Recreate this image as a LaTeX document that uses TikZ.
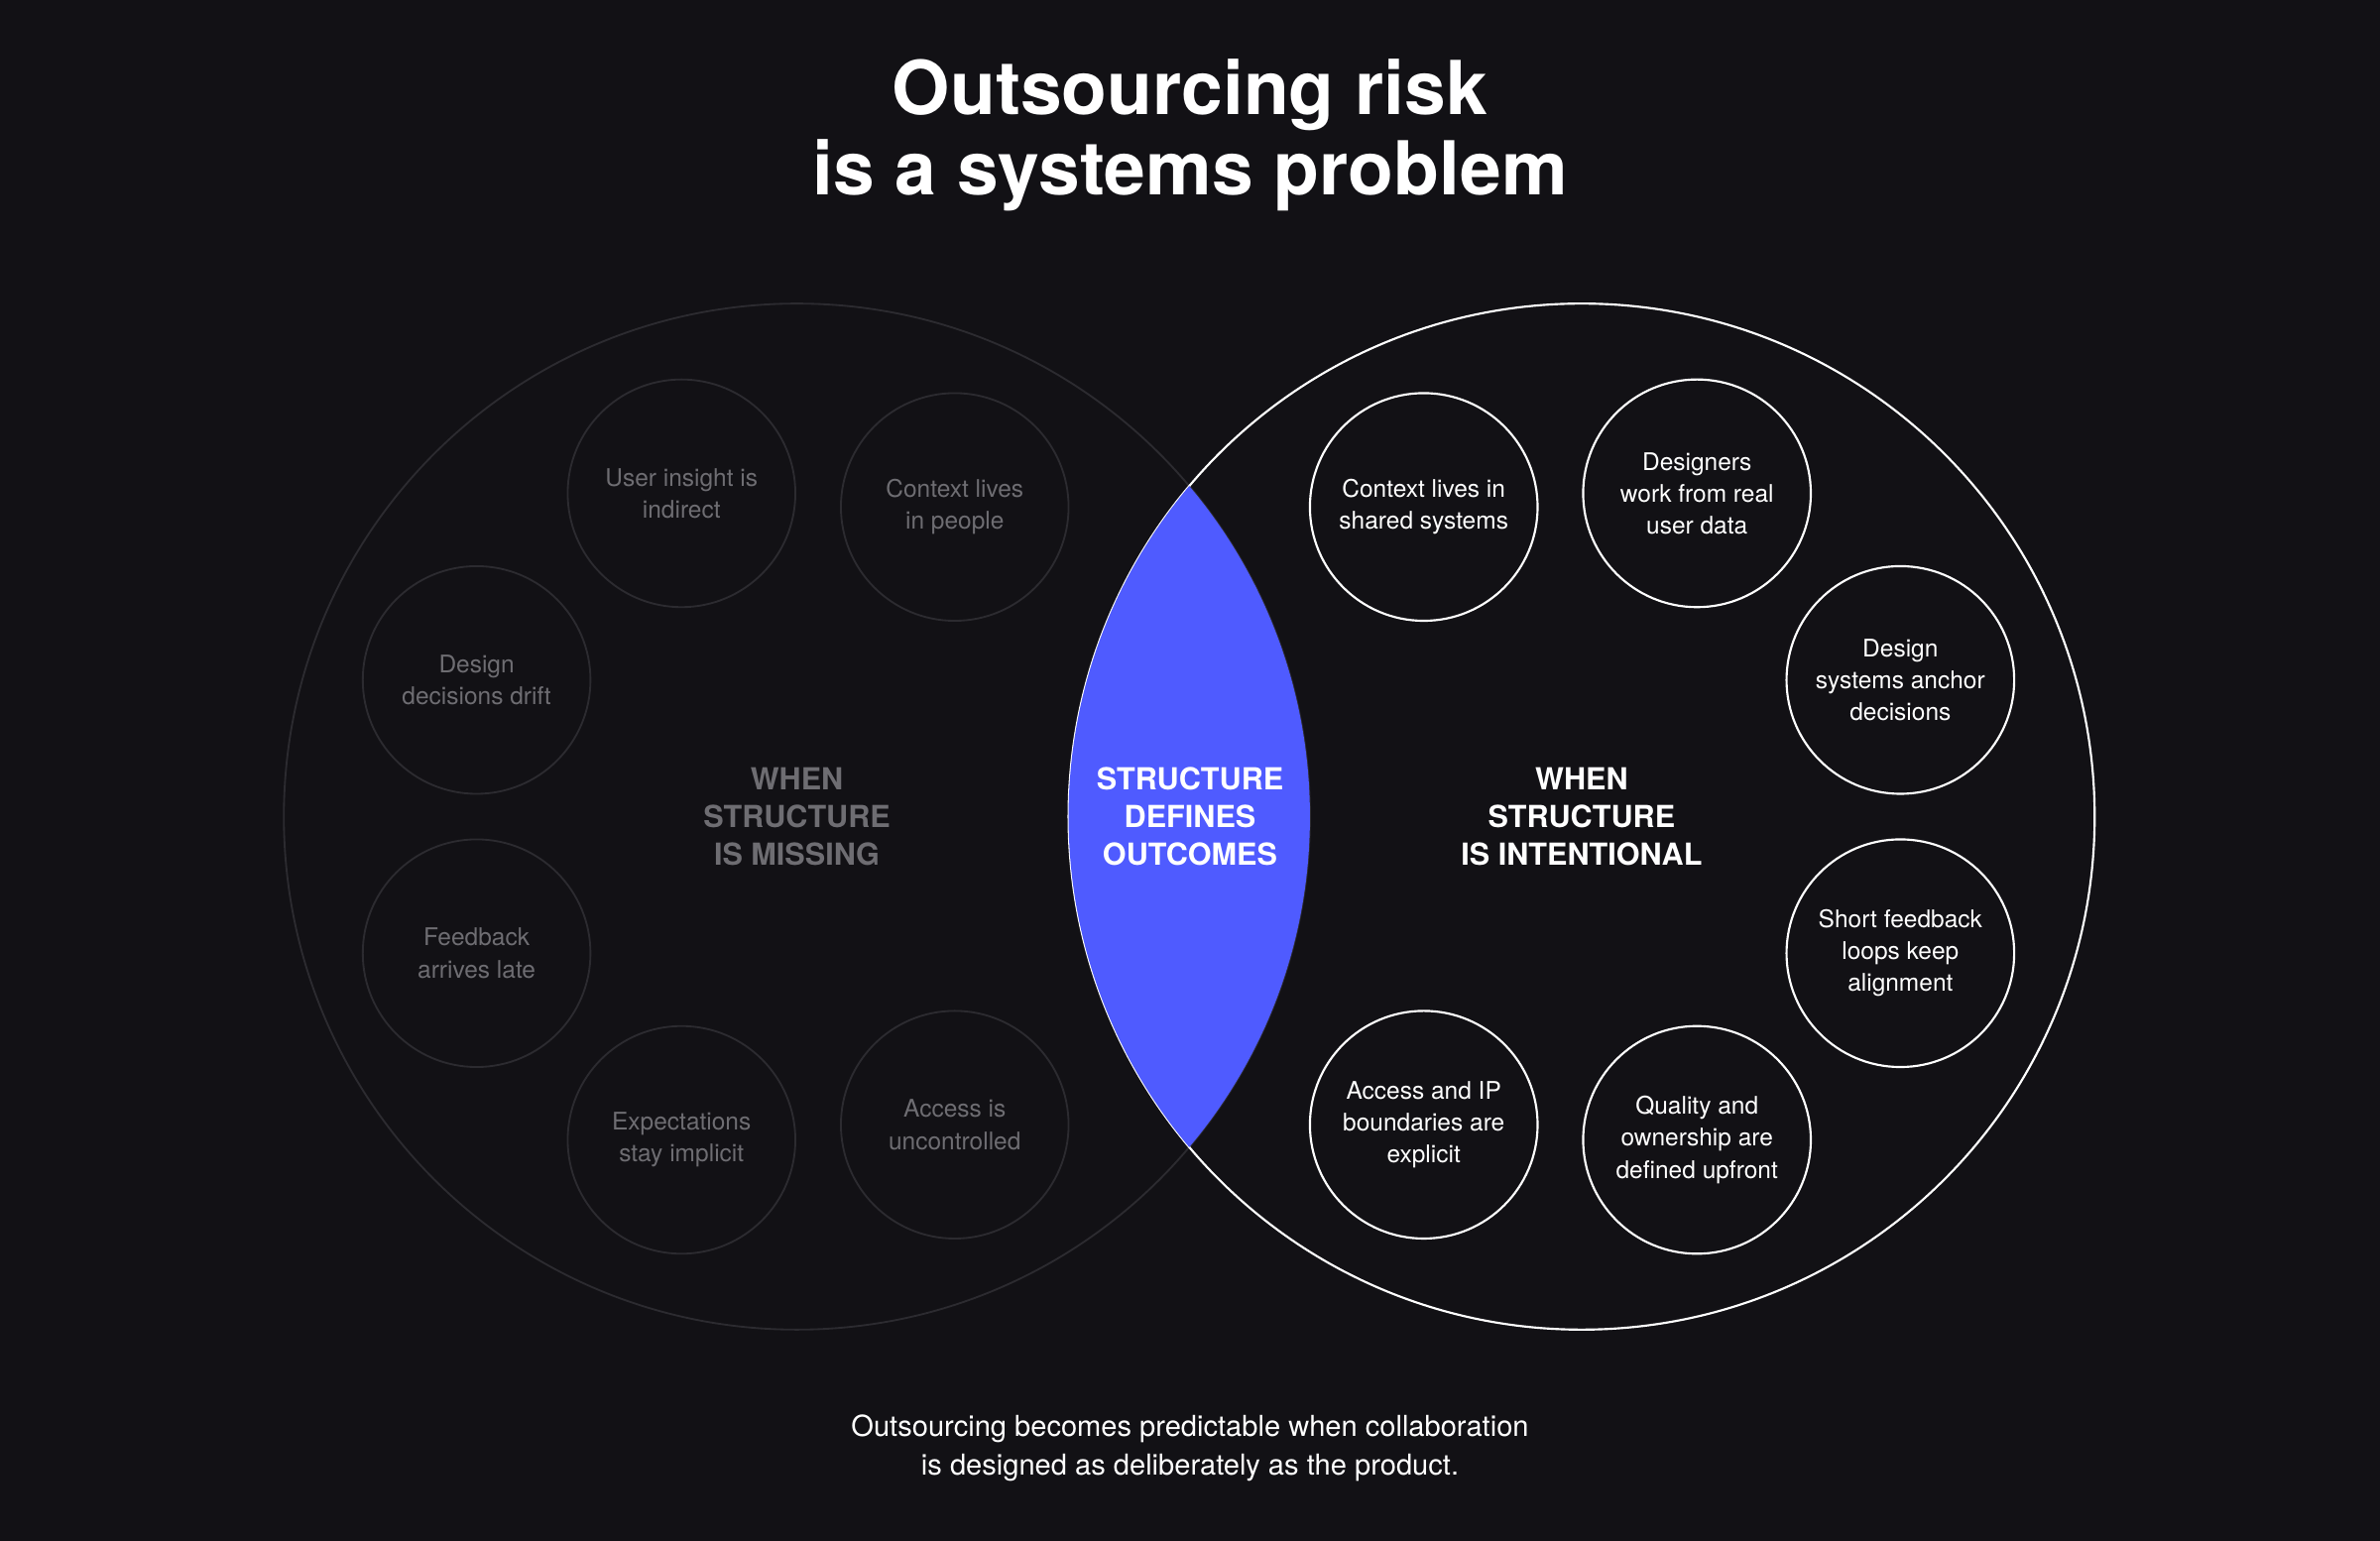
\documentclass[tikz,border=0pt]{standalone}
\usepackage{fontspec}
\setmainfont{TeX Gyre Heros}
\definecolor{bg}{HTML}{121115}
\definecolor{dim}{HTML}{2C2B30}
\definecolor{dimtext}{HTML}{6E6D72}
\definecolor{lens}{HTML}{4F5BFF}
\tikzset{
 small/.style={circle,minimum size=150pt,inner sep=0pt,align=center,font=\fontsize{16}{21}\selectfont},
 offc/.style={small,draw=dim,line width=1.2pt,text=dimtext},
 onc/.style={small,draw=white,line width=1.4pt,text=white},
 lbl/.style={align=center,font=\fontsize{20}{25}\selectfont\bfseries}
}
\begin{document}
\begin{tikzpicture}[x=1pt,y=-1pt]
\fill[bg] (0,0) rectangle (1568,1015);
\useasboundingbox (0,0) rectangle (1568,1015);
\node[align=center,text=white,font=\fontsize{49}{53}\selectfont\bfseries] (title) at (784,89) {Outsourcing risk\\is a systems problem};
\node[circle,draw=dim,line width=1.2pt,minimum size=676pt,inner sep=0pt] (L) at (525,538) {};
\node[circle,draw=white,line width=1.4pt,minimum size=676pt,inner sep=0pt] (R) at (1042,538) {};
\begin{scope}
\clip (525,538) circle (338);
\fill[lens] (1042,538) circle (338);
\end{scope}
\node[offc] (l1) at (449,325) {User insight is\\indirect};
\node[offc] (l2) at (629,334) {Context lives\\in people};
\node[offc] (l3) at (314,448) {Design\\decisions drift};
\node[offc] (l4) at (314,628) {Feedback\\arrives late};
\node[offc] (l5) at (449,751) {Expectations\\stay implicit};
\node[offc] (l6) at (629,741) {Access is\\uncontrolled};
\node[onc] (r1) at (938,334) {Context lives in\\shared systems};
\node[onc] (r2) at (1118,325) {Designers\\work from real\\user data};
\node[onc] (r3) at (1252,448) {Design\\systems anchor\\decisions};
\node[onc] (r4) at (1252,628) {Short feedback\\loops keep\\alignment};
\node[onc] (r5) at (1118,751) {Quality and\\ownership are\\defined upfront};
\node[onc] (r6) at (938,741) {Access and IP\\boundaries are\\explicit};
\node[lbl,text=dimtext] (tl) at (525,538) {WHEN\\STRUCTURE\\IS MISSING};
\node[lbl,text=white] (tc) at (784,538) {STRUCTURE\\DEFINES\\OUTCOMES};
\node[lbl,text=white] (tr) at (1042,538) {WHEN\\STRUCTURE\\IS INTENTIONAL};
\node[align=center,text=white,font=\fontsize{19}{25}\selectfont] (foot) at (784,954) {Outsourcing becomes predictable when collaboration\\is designed as deliberately as the product.};
\end{tikzpicture}
\end{document}
